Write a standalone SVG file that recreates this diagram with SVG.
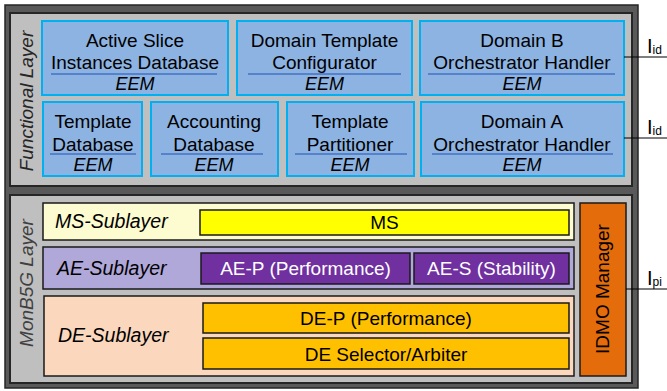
<svg xmlns="http://www.w3.org/2000/svg" width="667" height="391" viewBox="0 0 667 391">
<style>
text{font-family:"Liberation Sans",Arial,sans-serif;fill:#000}
.fb{fill:#8db3e2;stroke:#00b0f0;stroke-width:2}
.ul{stroke:#4472c4;stroke-width:1.5}
.t{font-size:19px;text-anchor:middle}
.e{font-size:18px;font-style:italic;text-anchor:middle}
.sl{font-size:19.5px;font-style:italic}
.bx{stroke:#1a1a1a;stroke-width:1.5}
.lbl{font-size:19px;text-anchor:middle}
.wt{fill:#fff}
.conn{stroke:#000;stroke-width:1.2}
</style>
<rect x="5" y="5" width="633" height="383" fill="#595959" stroke="#262626" stroke-width="1.5"/>
<g id="functional-layer">
<rect x="10" y="13" width="622" height="173" fill="#bfbfbf" stroke="#262626" stroke-width="2"/>
<text transform="translate(33,101) rotate(-90)" text-anchor="middle" font-size="19" font-style="italic" style="fill:#262626">Functional Layer</text>
</g>
<g id="active-slice">
<rect class="fb" x="42" y="21" width="186" height="74"/>
<text class="t" x="135" y="47">Active Slice</text>
<text class="t" x="135" y="69">Instances Database</text>
<line class="ul" x1="51" y1="74" x2="217" y2="74"/>
<text class="e" x="135" y="90">EEM</text>
</g>
<g id="domain-template-configurator">
<rect class="fb" x="237" y="21" width="175" height="74"/>
<text class="t" x="324.5" y="47">Domain Template</text>
<text class="t" x="324.5" y="69">Configurator</text>
<line class="ul" x1="248" y1="74" x2="401" y2="74"/>
<text class="e" x="324.5" y="90">EEM</text>
</g>
<g id="domain-b">
<rect class="fb" x="420" y="21" width="204" height="74"/>
<text class="t" x="522" y="47">Domain B</text>
<text class="t" x="522" y="69">Orchestrator Handler</text>
<line class="ul" x1="428" y1="74" x2="615" y2="74"/>
<text class="e" x="522" y="90">EEM</text>
</g>
<g id="template-database">
<rect class="fb" x="43" y="102" width="99" height="74"/>
<text class="t" x="93" y="128">Template</text>
<text class="t" x="93" y="151">Database</text>
<line class="ul" x1="50" y1="154" x2="136" y2="154"/>
<text class="e" x="93" y="171">EEM</text>
</g>
<g id="accounting-database">
<rect class="fb" x="151" y="102" width="127" height="74"/>
<text class="t" x="214" y="128">Accounting</text>
<text class="t" x="214" y="151">Database</text>
<line class="ul" x1="161" y1="154" x2="263" y2="154"/>
<text class="e" x="214" y="171">EEM</text>
</g>
<g id="template-partitioner">
<rect class="fb" x="287" y="102" width="127" height="74"/>
<text class="t" x="350" y="128">Template</text>
<text class="t" x="350" y="151">Partitioner</text>
<line class="ul" x1="295" y1="154" x2="407" y2="154"/>
<text class="e" x="350" y="171">EEM</text>
</g>
<g id="domain-a">
<rect class="fb" x="421" y="102" width="203" height="74"/>
<text class="t" x="522" y="128">Domain A</text>
<text class="t" x="522" y="151">Orchestrator Handler</text>
<line class="ul" x1="432" y1="154" x2="613" y2="154"/>
<text class="e" x="522" y="171">EEM</text>
</g>
<g id="monb5g-layer">
<rect x="10" y="195" width="622" height="188" fill="#bfbfbf" stroke="#262626" stroke-width="2"/>
<text transform="translate(33,283) rotate(-90)" text-anchor="middle" font-size="19" font-style="italic" style="fill:#404040">MonB5G Layer</text>
</g>
<g id="ms-sublayer">
<rect class="bx" x="43" y="203" width="531" height="37" fill="#fdfbd0"/>
<text class="sl" x="55" y="228">MS-Sublayer</text>
</g>
<g id="ms">
<rect class="bx" x="200" y="210" width="369" height="25" fill="#ffff00"/>
<text class="lbl" x="384.5" y="229">MS</text>
</g>
<g id="ae-sublayer">
<rect class="bx" x="43" y="247" width="531" height="42" fill="#b1a8da"/>
<text class="sl" x="57" y="275">AE-Sublayer</text>
</g>
<g id="ae-p">
<rect class="bx" x="201" y="253" width="209" height="31" fill="#7030a0"/>
<text class="lbl wt" x="305.5" y="275">AE-P (Performance)</text>
</g>
<g id="ae-s">
<rect class="bx" x="414" y="253" width="155" height="31" fill="#7030a0"/>
<text class="lbl wt" x="491.5" y="275">AE-S (Stability)</text>
</g>
<g id="de-sublayer">
<rect class="bx" x="44" y="296" width="530" height="80" fill="#fad7bd"/>
<text class="sl" x="58" y="342">DE-Sublayer</text>
</g>
<g id="de-p">
<rect class="bx" x="203" y="303" width="366" height="30" fill="#ffc000"/>
<text class="lbl" x="386" y="325">DE-P (Performance)</text>
</g>
<g id="de-selector">
<rect class="bx" x="203" y="338" width="366" height="31" fill="#ffc000"/>
<text class="lbl" x="386" y="361">DE Selector/Arbiter</text>
</g>
<g id="idmo-manager">
<rect class="bx" x="580" y="203" width="46" height="173" fill="#e46c0a"/>
<text class="lbl" transform="translate(609,289) rotate(-90)">IDMO Manager</text>
</g>
<g id="connectors">
<line class="conn" x1="624" y1="57" x2="667" y2="57"/>
<line class="conn" x1="624" y1="138" x2="667" y2="138"/>
<line class="conn" x1="626" y1="289" x2="667" y2="289"/>
<text x="647" y="53" font-size="20">I<tspan font-size="12" dy="1">id</tspan></text>
<text x="647" y="134" font-size="20">I<tspan font-size="12" dy="1">id</tspan></text>
<text x="647" y="285" font-size="20">I<tspan font-size="12" dy="1">pi</tspan></text>
</g>
</svg>
